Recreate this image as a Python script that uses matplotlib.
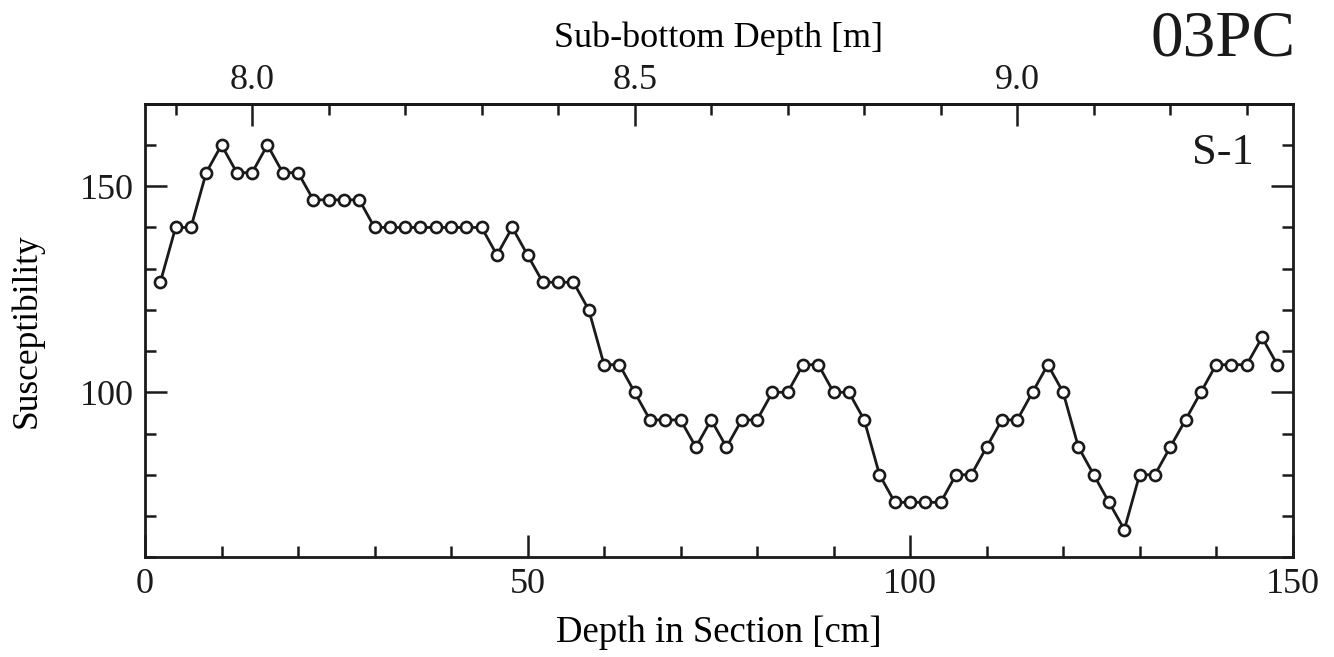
import matplotlib
matplotlib.use('Agg')
import matplotlib.pyplot as plt
from matplotlib.ticker import MultipleLocator, FixedLocator, NullFormatter

plt.rcParams['font.family'] = ['Liberation Serif', 'DejaVu Serif']

# depth in section (cm) and susceptibility
depth_cm = [2, 4, 6, 8, 10, 12, 14, 16, 18, 20, 22, 24, 26, 28,
            30, 32, 34, 36, 38, 40, 42, 44, 46, 48, 50, 52, 54, 56,
            58, 60, 62, 64, 66, 68, 70, 72, 74, 76, 78, 80, 82, 84,
            86, 88, 90, 92, 94, 96, 98, 100, 102, 104, 106, 108, 110,
            112, 114, 116, 118, 120, 122, 124, 126, 128, 130, 132, 134,
            136, 138, 140, 142, 144, 146, 148]
suscept = [126.7, 140, 140, 153.3, 160, 153.3, 153.3, 160, 153.3, 153.3,
           146.7, 146.7, 146.7, 146.7,
           140, 140, 140, 140, 140, 140, 140, 140, 133.3, 140, 133.3,
           126.7, 126.7, 126.7,
           120, 106.7, 106.7, 100, 93.3, 93.3, 93.3, 86.7, 93.3, 86.7,
           93.3, 93.3, 100, 100,
           106.7, 106.7, 100, 100, 93.3, 80, 73.3, 73.3, 73.3, 73.3,
           80, 80, 86.7,
           93.3, 93.3, 100, 106.7, 100, 86.7, 80, 73.3, 66.7, 80, 80, 86.7,
           93.3, 100, 106.7, 106.7, 106.7, 113.3, 106.7]

top_offset_m = 7.86  # sub-bottom depth at 0 cm in section
top_major = [8.0, 8.5, 9.0]
top_labels = ['8.0', '8.5', '9.0']
top_minor = [7.9, 8.1, 8.2, 8.3, 8.4, 8.6, 8.7, 8.8, 8.9, 9.1, 9.2, 9.3]

fig = plt.figure(figsize=(13.34, 6.57), dpi=100)
ax = fig.add_axes([0.1087, 0.152, 0.8603, 0.690])

ax.plot(depth_cm, suscept, '-o', color='#1a1a1a', lw=2.0,
        marker='o', markersize=8, markerfacecolor='white',
        markeredgecolor='#1a1a1a', markeredgewidth=1.9)

ax.set_xlim(0, 150)
ax.set_ylim(60, 170)
ax.xaxis.set_major_locator(FixedLocator([0, 50, 100, 150]))
ax.xaxis.set_minor_locator(MultipleLocator(10))
ax.yaxis.set_major_locator(FixedLocator([100, 150]))
ax.yaxis.set_minor_locator(MultipleLocator(10))

ax.tick_params(axis='both', which='both', direction='in', width=1.8,
               colors='#1a1a1a', labelsize=26)
ax.tick_params(axis='both', which='major', length=16)
ax.tick_params(axis='both', which='minor', length=8)
ax.tick_params(axis='x', which='both', top=False, pad=8)
ax.tick_params(axis='y', which='both', right=True, pad=8)
for s in ax.spines.values():
    s.set_linewidth(2.0)
    s.set_color('#1a1a1a')

ax.set_xlabel('Depth in Section [cm]', fontsize=26.5, labelpad=10)
ax.set_ylabel('Susceptibility', fontsize=25.5, labelpad=26)

# sub-bottom depth axis on top
sec = ax.secondary_xaxis('top', functions=(lambda x: x / 100 + top_offset_m,
                                           lambda m: (m - top_offset_m) * 100))
sec.xaxis.set_major_locator(FixedLocator(top_major))
sec.set_xticklabels(top_labels)
sec.xaxis.set_minor_locator(FixedLocator(top_minor))
sec.xaxis.set_minor_formatter(NullFormatter())
sec.tick_params(which='both', direction='in', width=1.8, colors='#1a1a1a',
                labelsize=26, pad=5)
sec.tick_params(which='major', length=16)
sec.tick_params(which='minor', length=8)
sec.spines['top'].set_linewidth(2.0)
sec.set_xlabel('Sub-bottom Depth [m]', fontsize=26, labelpad=12)

fig.text(0.971, 0.985, '03PC', fontsize=47, ha='right', va='top', color='#1a1a1a')
ax.text(0.966, 0.935, 'S-1', fontsize=32, ha='right', va='top',
        transform=ax.transAxes, color='#1a1a1a')

fig.savefig('out.png', dpi=100, facecolor='white')
